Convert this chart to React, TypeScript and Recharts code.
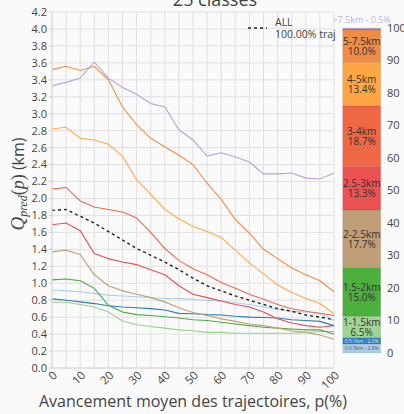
import React from 'react';
import { LineChart, Line, XAxis, YAxis, CartesianGrid, BarChart, Bar, LabelList } from 'recharts';

const progress = [0, 5, 10, 15, 20, 25, 30, 35, 40, 45, 50, 55, 60, 65, 70, 75, 80, 85, 90, 95, 100];
const xTicks = [0, 5, 10, 15, 20, 25, 30, 35, 40, 45, 50, 55, 60, 65, 70, 75, 80, 85, 90, 95, 100];
const yTicks = [0, 0.2, 0.4, 0.6, 0.8, 1.0, 1.2, 1.4, 1.6, 1.8, 2.0, 2.2, 2.4, 2.6, 2.8, 3.0, 3.2, 3.4, 3.6, 3.8, 4.0, 4.2];
const barTicks = [0, 10, 20, 30, 40, 50, 60, 70, 80, 90, 100];

const qAll = [1.86, 1.87, 1.79, 1.71, 1.61, 1.51, 1.41, 1.33, 1.25, 1.16, 1.06, 0.97, 0.91, 0.85, 0.80, 0.75, 0.70, 0.67, 0.625, 0.60, 0.57];
const qOver75 = [3.33, 3.37, 3.42, 3.61, 3.42, 3.31, 3.23, 3.12, 3.08, 2.81, 2.69, 2.50, 2.54, 2.49, 2.43, 2.29, 2.29, 2.30, 2.24, 2.23, 2.30];
const q5to75 = [3.52, 3.56, 3.51, 3.56, 3.40, 3.08, 2.87, 2.71, 2.61, 2.51, 2.40, 2.18, 1.99, 1.75, 1.59, 1.40, 1.29, 1.18, 1.10, 1.03, 0.90];
const q4to5 = [2.82, 2.84, 2.71, 2.69, 2.64, 2.50, 2.22, 2.05, 1.87, 1.76, 1.67, 1.61, 1.54, 1.39, 1.24, 1.11, 0.98, 0.89, 0.82, 0.76, 0.64];
const q3to4 = [2.11, 2.13, 1.97, 1.90, 1.87, 1.84, 1.77, 1.60, 1.41, 1.27, 1.17, 1.10, 1.01, 0.94, 0.87, 0.81, 0.75, 0.70, 0.67, 0.645, 0.62];
const q25to3 = [1.69, 1.71, 1.62, 1.35, 1.29, 1.25, 1.22, 1.16, 1.10, 0.97, 0.87, 0.83, 0.79, 0.75, 0.72, 0.66, 0.58, 0.53, 0.50, 0.48, 0.50];
const q2to25 = [1.37, 1.39, 1.34, 1.10, 0.97, 0.91, 0.87, 0.83, 0.78, 0.71, 0.655, 0.62, 0.58, 0.55, 0.52, 0.50, 0.47, 0.44, 0.42, 0.39, 0.34];
const q15to2 = [1.04, 1.05, 1.03, 0.94, 0.74, 0.66, 0.63, 0.62, 0.605, 0.59, 0.57, 0.56, 0.54, 0.52, 0.50, 0.48, 0.47, 0.46, 0.45, 0.45, 0.40];
const q1to15 = [0.775, 0.775, 0.75, 0.72, 0.66, 0.555, 0.51, 0.49, 0.47, 0.45, 0.44, 0.42, 0.42, 0.41, 0.41, 0.41, 0.41, 0.41, 0.42, 0.43, 0.43];
const q05to1 = [0.815, 0.80, 0.78, 0.76, 0.735, 0.72, 0.71, 0.70, 0.685, 0.645, 0.64, 0.63, 0.625, 0.61, 0.60, 0.595, 0.59, 0.57, 0.56, 0.55, 0.50];
const q0to05 = [0.92, 0.91, 0.90, 0.88, 0.86, 0.85, 0.84, 0.83, 0.82, 0.82, 0.81, 0.80, 0.79, 0.77, 0.75, 0.72, 0.69, 0.67, 0.66, 0.645, 0.56];

const classNames = ['0-0.5km', '0.5-1km', '1-1.5km', '1.5-2km', '2-2.5km', '2.5-3km', '3-4km', '4-5km', '5-7.5km', '>7.5km'];
const classShares = [2.8, 2.0, 6.5, 15.0, 17.7, 13.3, 18.7, 13.4, 10.0, 0.5];
const classValues = [q0to05, q05to1, q1to15, q15to2, q2to25, q25to3, q3to4, q4to5, q5to75, qOver75];
const lineColors = ['#a9cfe9', '#2b7bba', '#98d18c', '#4aab3d', '#c3a07c', '#eb4d4d', '#f06a4a', '#ffab4a', '#f08e48', '#b8a2d9'];
const barColors = ['#a9cde8', '#2f7fc0', '#9fd494', '#4daf3e', '#bf9e78', '#ec5252', '#ee6846', '#fda744', '#ef8c45', '#9a80c4'];

const FONT = '"Open Sans", "Liberation Sans", sans-serif';
const SERIF = '"Liberation Serif", serif';
const TXT = '#444';

const rows = progress.map((p, i) => {
  const r: any = { p, all: qAll[i] };
  classValues.forEach((vals, k) => { r['c' + k] = vals[i]; });
  return r;
});

const barRow: any = { name: 'classes' };
classShares.forEach((v, k) => { barRow['b' + k] = v; });
const barData = [barRow];

const XTick = (props: any) => {
  const { x, y, payload } = props;
  if (payload.value % 10 !== 0) return <g />;
  return (
    <text
      x={x + 6}
      y={y + 8}
      transform={`rotate(-45, ${x + 6}, ${y + 8})`}
      textAnchor="end"
      fontSize={11.5}
      fill={TXT}
      fontFamily={FONT}
    >
      {payload.value}
    </text>
  );
};

const YLabel = () => {
  const cx = 24;
  const cy = 184;
  return (
    <text transform={`rotate(-90, ${cx}, ${cy})`} x={cx} y={cy} textAnchor="middle" fill={TXT}>
      <tspan fontFamily={SERIF} fontStyle="italic" fontSize={19}>Q</tspan>
      <tspan fontFamily={SERIF} fontStyle="italic" fontSize={12} dy={3}>pred</tspan>
      <tspan fontFamily={SERIF} fontSize={18} dy={-3}>(</tspan>
      <tspan fontFamily={SERIF} fontStyle="italic" fontSize={18}>p</tspan>
      <tspan fontFamily={SERIF} fontSize={18}>)</tspan>
      <tspan fontFamily={FONT} fontSize={16}> (km)</tspan>
    </text>
  );
};

const XLabel = (props: any) => {
  const vb = props.viewBox || { x: 52, y: 368, width: 282, height: 46 };
  return (
    <text x={vb.x + vb.width / 2} y={407} textAnchor="middle" fontSize={16} fill={TXT} fontFamily={FONT}>
      Avancement moyen des trajectoires, p(%)
    </text>
  );
};

const makeSegLabel = (k: number) => (props: any) => {
  const { x, y, width, height } = props;
  const cx = x + width / 2;
  const cy = y + height / 2;
  const name = classNames[k];
  const share = classShares[k].toFixed(1) + '%';
  if (k === 9) {
    return (
      <text x={cx} y={y - 5} textAnchor="middle" fontSize={9} fill="#c2b0e6" fontFamily={FONT}>
        {name + ' - ' + share}
      </text>
    );
  }
  if (k < 2) {
    return (
      <text x={cx} y={cy + 2} textAnchor="middle" fontSize={5} fill={k === 1 ? '#dde8f2' : '#556'} fontFamily={FONT}>
        {name + ' - ' + share}
      </text>
    );
  }
  return (
    <text x={cx} textAnchor="middle" fontSize={10} fill="#333" fontFamily={FONT}>
      <tspan x={cx} y={cy - 1}>{name}</tspan>
      <tspan x={cx} y={cy + 9}>{share}</tspan>
    </text>
  );
};

export default function App() {
  return (
    <div style={{ position: 'absolute', left: 0, top: 0, width: 404, height: 414, background: '#fafafa', overflow: 'hidden' }}>
      <div style={{ position: 'absolute', left: 0, top: -13, width: 430, textAlign: 'center', fontFamily: FONT, fontSize: 18, color: TXT, lineHeight: '24px' }}>
        25 classes
      </div>
      <div style={{ position: 'absolute', left: 0, top: 0 }}>
        <LineChart width={404} height={414} data={rows} margin={{ top: 12, right: 70, bottom: 0, left: 0 }}>
          <CartesianGrid stroke="#e0e0e0" strokeWidth={1} />
          <XAxis
            dataKey="p"
            type="number"
            domain={[0, 100]}
            ticks={xTicks}
            interval={0}
            tick={<XTick />}
            tickLine={false}
            tickSize={0}
            tickMargin={0}
            axisLine={{ stroke: '#d8d8d8' }}
            height={46}
            label={{ content: <XLabel /> }}
          />
          <YAxis
            type="number"
            domain={[0, 4.2]}
            ticks={yTicks}
            interval={0}
            width={52}
            tickFormatter={(v: number) => v.toFixed(1)}
            tick={{ fontSize: 11, fill: TXT, fontFamily: FONT }}
            tickLine={{ stroke: '#cccccc' }}
            tickSize={3}
            tickMargin={2}
            axisLine={{ stroke: '#d8d8d8' }}
            label={{ content: <YLabel /> }}
          />
          {classValues.map((_, k) => (
            <Line
              key={'c' + k}
              dataKey={'c' + k}
              stroke={lineColors[k]}
              strokeWidth={1.1}
              dot={false}
              isAnimationActive={false}
              type="linear"
            />
          ))}
          <Line
            dataKey="all"
            stroke="#222"
            strokeWidth={1.4}
            strokeDasharray="3 3"
            dot={false}
            isAnimationActive={false}
            type="linear"
          />
        </LineChart>
      </div>
      <svg style={{ position: 'absolute', left: 245, top: 16 }} width={110} height={30}>
        <line x1={3} y1={12} x2={22} y2={12} stroke="#222" strokeWidth={1.4} strokeDasharray="3 3" />
        <text x={30} y={10} fontSize={10.5} fill={TXT} fontFamily={FONT}>ALL</text>
        <text x={30} y={22} fontSize={10.5} fill={TXT} fontFamily={FONT}>100.00% traj</text>
      </svg>
      <div style={{ position: 'absolute', left: 330, top: 0 }}>
        <BarChart width={74} height={414} data={barData} margin={{ top: 28, right: 0, bottom: 61, left: 12.7 }} barCategoryGap={0}>
          <XAxis dataKey="name" hide />
          <YAxis
            orientation="right"
            type="number"
            domain={[0, 100]}
            ticks={barTicks}
            interval={0}
            width={23}
            tick={{ fontSize: 11, fill: TXT, fontFamily: FONT, textAnchor: 'start' }}
            tickLine={false}
            tickSize={4}
            tickMargin={2}
            axisLine={false}
          />
          {classShares.map((_, k) => (
            <Bar key={'b' + k} dataKey={'b' + k} stackId="s" fill={barColors[k]} stroke="rgba(0,0,0,0.12)" strokeWidth={0.6} isAnimationActive={false}>
              <LabelList content={makeSegLabel(k)} />
            </Bar>
          ))}
        </BarChart>
      </div>
    </div>
  );
}
